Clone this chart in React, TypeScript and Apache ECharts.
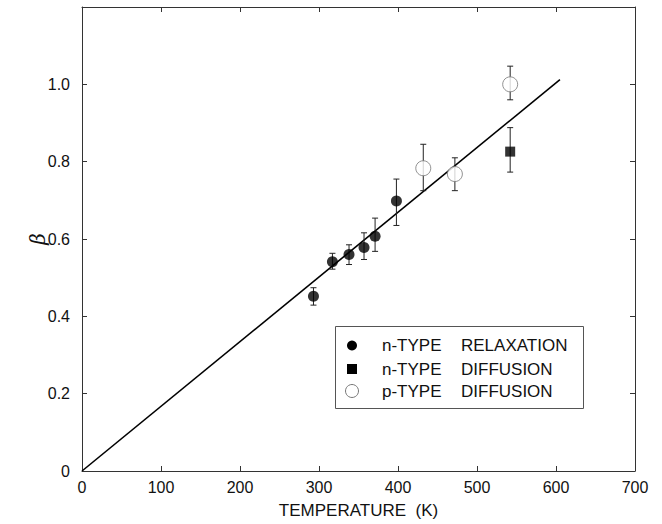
import React, { useEffect, useRef } from "react";
import * as echarts from "echarts";

// n-TYPE RELAXATION (filled circles)
const relaxT = [293, 317, 338, 357, 371, 398];
const relaxBeta = [0.452, 0.541, 0.56, 0.578, 0.607, 0.698];
const relaxLow = [0.429, 0.522, 0.534, 0.547, 0.568, 0.635];
const relaxHigh = [0.474, 0.563, 0.585, 0.616, 0.654, 0.755];

// n-TYPE DIFFUSION (filled square)
const nDiffT = [542];
const nDiffBeta = [0.826];
const nDiffLow = [0.773];
const nDiffHigh = [0.888];

// p-TYPE DIFFUSION (open circles)
const pDiffT = [432, 472, 542];
const pDiffBeta = [0.783, 0.768, 1.0];
const pDiffLow = [0.725, 0.725, 0.96];
const pDiffHigh = [0.845, 0.81, 1.047];

// fitted straight line
const fitT = [0, 605];
const fitBeta = [0, 1.012];

const xTicks = [0, 100, 200, 300, 400, 500, 600, 700];
const yTicks = [0, 0.2, 0.4, 0.6, 0.8, 1.0];

const FONT = "Liberation Sans, Arial, Helvetica, sans-serif";
const INK = "#111";

export default function App() {
  const ref = useRef<HTMLDivElement>(null);
  useEffect(() => {
    if (!ref.current) return;
    const chart = echarts.init(ref.current, null, { renderer: "svg" });

    const errData = [
      ...relaxT.map((t, i) => [t, relaxLow[i], relaxHigh[i]]),
      ...nDiffT.map((t, i) => [t, nDiffLow[i], nDiffHigh[i]]),
      ...pDiffT.map((t, i) => [t, pDiffLow[i], pDiffHigh[i]]),
    ];

    const axisLine = { show: true, onZero: false, lineStyle: { color: "#333", width: 1 } };
    const axisTick = { show: true, inside: true, length: 5, lineStyle: { color: "#333" } };

    const legendRows = [
      { y: 345.5, a: "n-TYPE", b: "RELAXATION" },
      { y: 369, a: "n-TYPE", b: "DIFFUSION" },
      { y: 391, a: "p-TYPE", b: "DIFFUSION" },
    ];

    const graphic: any[] = [
      {
        type: "rect",
        shape: { x: 335.5, y: 326.5, width: 248, height: 82 },
        style: { fill: "#fff", stroke: "#555", lineWidth: 1 },
        z: 10,
      },
      {
        type: "circle",
        shape: { cx: 352, cy: 345.5, r: 5 },
        style: { fill: "#000" },
        z: 11,
      },
      {
        type: "rect",
        shape: { x: 347, y: 364, width: 10, height: 10 },
        style: { fill: "#000" },
        z: 11,
      },
      {
        type: "circle",
        shape: { cx: 352, cy: 391, r: 6.5 },
        style: { fill: "#fff", stroke: "#777", lineWidth: 1 },
        z: 11,
      },
    ];
    legendRows.forEach((r) => {
      graphic.push({
        type: "text",
        x: 382,
        y: r.y,
        style: { text: r.a, font: `17px ${FONT}`, fill: INK, verticalAlign: "middle" },
        z: 11,
      });
      graphic.push({
        type: "text",
        x: 461,
        y: r.y,
        style: { text: r.b, font: `17px ${FONT}`, fill: INK, verticalAlign: "middle" },
        z: 11,
      });
    });

    chart.setOption({
      animation: false,
      backgroundColor: "#fff",
      grid: { left: 82, right: 27, top: 7, bottom: 51 },
      xAxis: [
        {
          type: "value",
          min: 0,
          max: 700,
          interval: 100,
          name: "TEMPERATURE  (K)",
          nameLocation: "middle",
          nameGap: 31,
          nameMoveOverlap: false,
          nameTextStyle: { fontFamily: FONT, fontSize: 17, color: INK },
          axisLine,
          axisTick,
          splitLine: { show: false },
          axisLabel: {
            fontFamily: FONT,
            fontSize: 16,
            color: INK,
            margin: 8,
            formatter: (v: number) => (xTicks.includes(v) ? String(v) : ""),
          },
        },
        {
          type: "value",
          position: "top",
          min: 0,
          max: 700,
          interval: 100,
          axisLine,
          axisTick,
          axisLabel: { show: false },
          splitLine: { show: false },
        },
      ],
      yAxis: [
        {
          type: "value",
          min: 0,
          max: 1.2,
          interval: 0.2,
          name: "β",
          nameLocation: "middle",
          nameGap: 34,
          nameRotate: 90,
          nameMoveOverlap: false,
          nameTextStyle: {
            fontFamily: "DejaVu Serif, serif",
            fontStyle: "italic",
            fontSize: 20,
            color: INK,
          },
          axisLine,
          axisTick,
          splitLine: { show: false },
          axisLabel: {
            fontFamily: FONT,
            fontSize: 16,
            color: INK,
            margin: 12,
            formatter: (v: number) => {
              const hit = yTicks.find((t) => Math.abs(t - v) < 1e-6);
              if (hit === undefined) return "";
              return hit === 0 ? "0" : hit.toFixed(1);
            },
          },
        },
        {
          type: "value",
          position: "right",
          min: 0,
          max: 1.2,
          interval: 0.2,
          axisLine,
          axisTick,
          axisLabel: { show: false },
          splitLine: { show: false },
        },
      ],
      series: [
        {
          name: "fit",
          type: "line",
          data: fitT.map((t, i) => [t, fitBeta[i]]),
          symbol: "none",
          lineStyle: { color: "#000", width: 1.6 },
          z: 2,
        },
        {
          name: "error",
          type: "custom",
          data: errData,
          z: 3,
          renderItem: (params: any, api: any) => {
            const x = api.value(0);
            const lo = api.coord([x, api.value(1)]);
            const hi = api.coord([x, api.value(2)]);
            const w = 3;
            const st = { stroke: "#222", lineWidth: 1 };
            return {
              type: "group",
              children: [
                { type: "line", shape: { x1: lo[0], y1: lo[1], x2: hi[0], y2: hi[1] }, style: st },
                { type: "line", shape: { x1: lo[0] - w, y1: lo[1], x2: lo[0] + w, y2: lo[1] }, style: st },
                { type: "line", shape: { x1: hi[0] - w, y1: hi[1], x2: hi[0] + w, y2: hi[1] }, style: st },
              ],
            };
          },
        },
        {
          name: "n-TYPE RELAXATION",
          type: "scatter",
          data: relaxT.map((t, i) => [t, relaxBeta[i]]),
          symbol: "circle",
          symbolSize: 11,
          itemStyle: { color: "#000" },
          z: 5,
        },
        {
          name: "n-TYPE DIFFUSION",
          type: "scatter",
          data: nDiffT.map((t, i) => [t, nDiffBeta[i]]),
          symbol: "rect",
          symbolSize: 10,
          itemStyle: { color: "#000" },
          z: 5,
        },
        {
          name: "p-TYPE DIFFUSION",
          type: "scatter",
          data: pDiffT.map((t, i) => [t, pDiffBeta[i]]),
          symbol: "circle",
          symbolSize: 15,
          itemStyle: { color: "#fff", borderColor: "#777", borderWidth: 1 },
          z: 5,
        },
      ],
      graphic,
    });
    return () => chart.dispose();
  }, []);
  return (
    <div
      ref={ref}
      style={{ width: 662, height: 524, position: "fixed", left: 0, top: 0 }}
    />
  );
}
